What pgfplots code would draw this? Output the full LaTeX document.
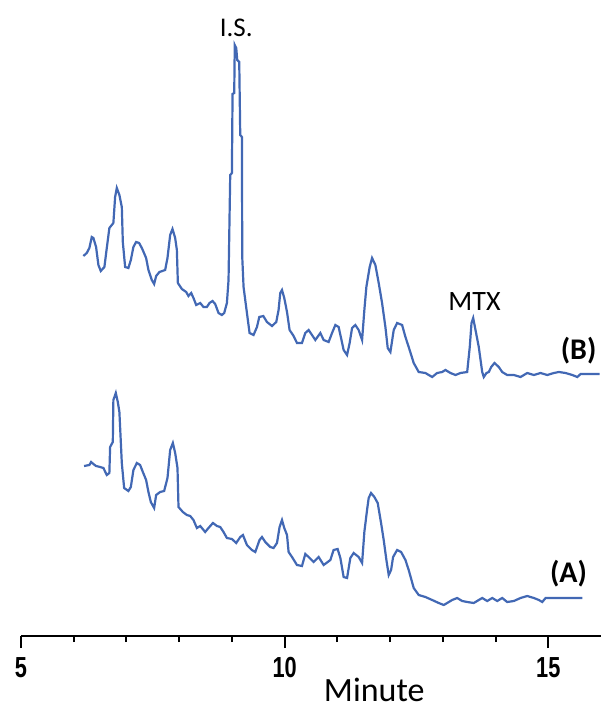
\documentclass[border=0pt]{standalone}
\usepackage{fontspec}
\setmainfont{Carlito}
\newfontfamily\tickfont{Liberation Sans}
\usepackage{graphicx}
\usepackage{pgfplots}
\pgfplotsset{compat=1.18}
\definecolor{trace}{RGB}{66,104,180}

\begin{document}
\begin{tikzpicture}
\begin{axis}[
    scale only axis,
    width=290pt, height=318pt,
    xmin=5, xmax=16,
    ymin=0, ymax=636,
    axis x line*=bottom,
    hide y axis,
    axis line style={black, line width=1pt},
    xtick={5,10,15},
    minor x tick num=4,
    tick align=outside,
    major tick length=6pt,
    minor tick length=3pt,
    every tick/.style={black, line width=1pt},
    /pgf/number format/assume math mode=true,
    xticklabel={\tickfont\bfseries\scalebox{0.75}[1]{\pgfmathprintnumber{\tick}}},
    xticklabel style={font=\fontsize{14.5}{14.5}\selectfont, yshift=-1pt},
    xlabel={Minute},
    xlabel style={font=\fontsize{17}{17}\selectfont, at={(rel axis cs:0.609,0)}, anchor=north, yshift=-20pt, inner sep=1pt},
    clip=false,
]
% (B) spiked sample
\addplot[trace, line width=1.1pt] coordinates {
(6.183,380) (6.247,383) (6.297,388) (6.342,399) (6.373,398) (6.424,389) (6.468,371)
(6.513,365) (6.582,369) (6.627,388) (6.676,408) (6.752,413) (6.785,439) (6.817,448)
(6.866,441) (6.912,429) (6.931,394) (6.975,369) (7.037,368) (7.083,376) (7.132,389)
(7.183,394) (7.240,393) (7.292,388) (7.373,378) (7.417,366) (7.481,356) (7.525,352)
(7.563,360) (7.626,364) (7.734,366) (7.778,378) (7.829,401) (7.873,407) (7.924,398)
(7.956,386) (7.975,353) (8.051,347) (8.133,344) (8.176,340) (8.228,343) (8.271,338)
(8.323,331) (8.399,333) (8.461,329) (8.526,329) (8.575,333) (8.632,335) (8.683,332)
(8.746,323) (8.810,321) (8.854,323) (8.905,333) (8.936,356) (8.968,461) (9.000,463)
(9.012,542) (9.044,543) (9.054,591) (9.082,588) (9.101,576) (9.139,574) (9.158,501)
(9.190,499) (9.196,379) (9.221,349) (9.285,323) (9.335,303) (9.410,301) (9.475,309)
(9.519,319) (9.595,320) (9.665,314) (9.760,310) (9.841,314) (9.885,326) (9.917,343)
(9.950,346) (9.993,338) (10.045,324) (10.094,306) (10.170,300) (10.234,293) (10.329,293)
(10.392,303) (10.455,306) (10.519,301) (10.582,296) (10.677,303) (10.740,296) (10.834,294)
(10.899,303) (10.962,311) (11.024,309) (11.070,298) (11.119,286) (11.184,281) (11.233,293)
(11.279,308) (11.341,311) (11.404,306) (11.469,296) (11.512,326) (11.550,349) (11.613,369)
(11.658,378) (11.721,371) (11.784,353) (11.848,333) (11.911,309) (11.955,288) (12.006,284)
(12.069,306) (12.133,313) (12.228,311) (12.291,299) (12.353,289) (12.448,273) (12.543,264)
(12.670,263) (12.798,259) (12.892,263) (12.987,264) (13.050,266) (13.145,263) (13.240,261)
(13.335,263) (13.462,264) (13.511,289) (13.544,313) (13.576,318) (13.620,306) (13.682,289)
(13.747,264) (13.777,259) (13.828,263) (13.872,264) (13.918,269) (13.980,273) (14.062,269)
(14.126,264) (14.221,261) (14.347,261) (14.474,259) (14.601,263) (14.727,261) (14.854,263)
(14.981,261) (15.106,263) (15.201,264) (15.328,263) (15.456,261) (15.551,259) (15.613,262)
(15.974,262)
};
% (A) blank
\addplot[trace, line width=1.1pt] coordinates {
(6.196,170) (6.297,171) (6.329,174) (6.373,172) (6.424,170) (6.500,169) (6.563,168)
(6.627,161) (6.676,163) (6.690,189) (6.741,194) (6.752,236) (6.798,243) (6.836,234)
(6.866,224) (6.912,173) (6.956,148) (7.037,145) (7.083,149) (7.132,166) (7.197,173)
(7.259,171) (7.311,164) (7.373,156) (7.417,144) (7.462,134) (7.525,128) (7.563,141)
(7.639,144) (7.715,145) (7.778,158) (7.829,186) (7.880,193) (7.924,183) (7.968,168)
(7.987,129) (8.070,124) (8.146,121) (8.209,120) (8.271,116) (8.336,108) (8.399,110)
(8.493,104) (8.556,108) (8.640,113) (8.716,110) (8.778,109) (8.841,104) (8.905,98)
(9.000,97) (9.082,93) (9.158,99) (9.209,101) (9.285,91) (9.380,86) (9.443,84)
(9.524,96) (9.570,99) (9.633,94) (9.728,89) (9.790,88) (9.855,93) (9.904,109)
(9.950,116) (9.993,108) (10.045,101) (10.075,84) (10.140,79) (10.234,71) (10.329,70)
(10.392,82) (10.455,79) (10.550,74) (10.645,79) (10.740,71) (10.867,76) (10.929,86)
(11.005,87) (11.057,78) (11.119,59) (11.184,58) (11.246,78) (11.309,83) (11.404,79)
(11.469,73) (11.512,104) (11.563,126) (11.594,138) (11.639,143) (11.702,139) (11.765,133)
(11.829,113) (11.879,96) (11.930,76) (11.974,61) (12.019,66) (12.057,79) (12.133,86)
(12.209,84) (12.291,76) (12.353,66) (12.448,48) (12.543,41) (12.670,39) (12.798,36)
(12.923,33) (13.018,31) (13.082,33) (13.177,36) (13.272,38) (13.367,35) (13.462,34)
(13.587,33) (13.682,36) (13.747,38) (13.842,35) (13.937,38) (14.032,35) (14.126,38)
(14.221,34) (14.347,35) (14.474,38) (14.601,40) (14.727,38) (14.822,36) (14.886,34)
(14.949,38) (15.646,38)
};
\node[font=\fontsize{13.5}{13.5}\selectfont] at (axis cs:9.082,608) {I.S.};
\node[font=\fontsize{14}{14}\selectfont] at (axis cs:13.601,334) {MTX};
\node[font=\fontsize{15}{15}\selectfont\bfseries] at (axis cs:15.575,285) {(B)};
\node[font=\fontsize{15}{15}\selectfont\bfseries] at (axis cs:15.385,62) {(A)};
\end{axis}
\pgfresetboundingbox
\path (-10.5pt,-36pt) rectangle (290pt,318pt);
\end{tikzpicture}
\end{document}
